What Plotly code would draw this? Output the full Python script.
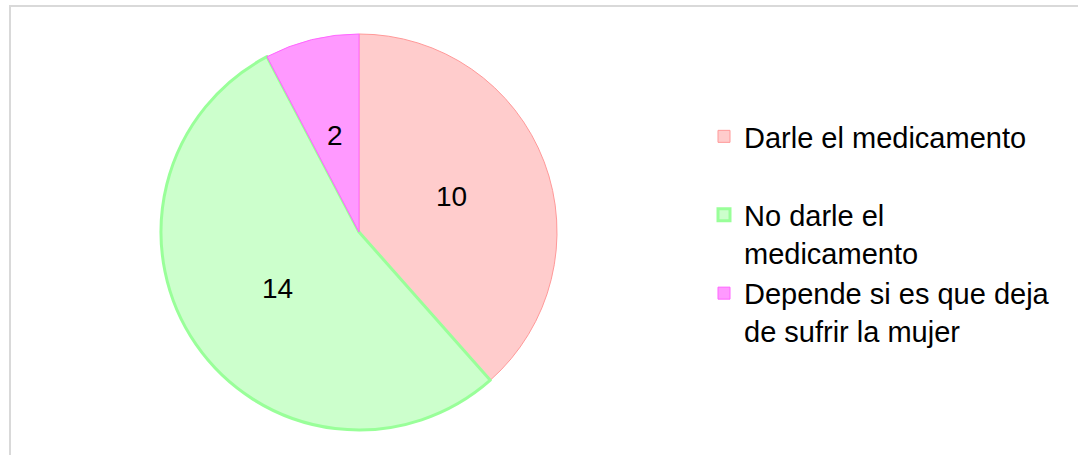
import math
import plotly.graph_objects as go

categories = ["Darle el medicamento<br> ", "No darle el<br>medicamento", "Depende si es que deja<br>de sufrir la mujer"]
values = [10, 14, 2]
fill_colors = ["#ffcccc", "#ccffcc", "#ff99ff"]
line_colors = ["#ff9999", "#99ff99", "#ff66ff"]
line_widths = [1, 3, 1]

W, H = 1078, 455
cx, cy, R = 359, 232, 198
FONT = "Arial, Liberation Sans"

fig = go.Figure(go.Pie(
    labels=categories,
    values=values,
    sort=False,
    direction="clockwise",
    rotation=0,
    marker=dict(colors=fill_colors, line=dict(color=line_colors, width=line_widths)),
    textinfo="none",
    domain=dict(x=[(cx - R) / W, (cx + R) / W], y=[(H - cy - R) / H, (H - cy + R) / H]),
    hoverinfo="label+value",
))

# value labels at half radius along each slice bisector (Excel-style)
total = sum(values)
cum = 0
annotations = []
for v in values:
    mid = (cum + v / 2) / total * 2 * math.pi
    cum += v
    px = cx + 0.5 * R * math.sin(mid)
    py = cy - 0.5 * R * math.cos(mid)
    annotations.append(dict(
        x=px / W, y=1 - py / H, xref="paper", yref="paper",
        text=str(v), showarrow=False, xanchor="center", yanchor="middle",
        font=dict(family=FONT, size=28, color="#000000"),
    ))

fig.update_layout(
    width=W, height=H,
    margin=dict(l=0, r=0, t=0, b=0),
    paper_bgcolor="white",
    plot_bgcolor="white",
    font=dict(family=FONT, color="#000000"),
    legend=dict(
        x=704 / W, y=1 - 111 / H, xanchor="left", yanchor="top",
        font=dict(family=FONT, size=29, color="#000000"),
        valign="top",
        bgcolor="rgba(0,0,0,0)",
    ),
    annotations=annotations,
    shapes=[dict(type="rect", xref="paper", yref="paper",
                 x0=10 / W, x1=1.02, y0=-0.05, y1=1 - 6 / H,
                 line=dict(color="#d9d9d9", width=2), fillcolor="rgba(0,0,0,0)", layer="below")],
)

fig.write_html("out.html", config={"displayModeBar": False},
               post_script="document.body.style.margin='0px';")
